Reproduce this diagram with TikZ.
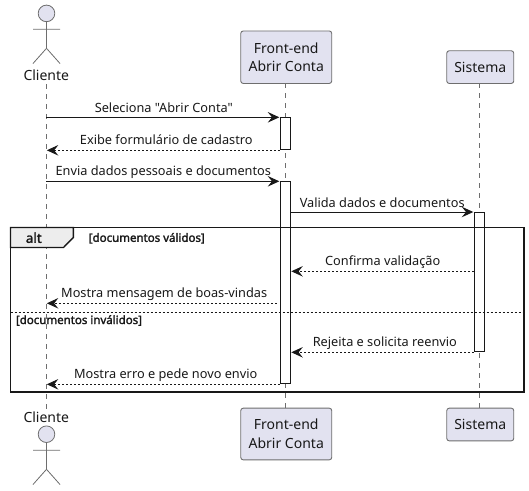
\documentclass[tikz,border=0pt]{standalone}
\usepackage{fontspec}
\setmainfont{Noto Sans}
\newfontfamily\plainfont{Noto Sans}
\newfontfamily\heavyfont[FakeBold=2]{Noto Sans}
\usetikzlibrary{arrows.meta}
\definecolor{ink}{HTML}{181818}
\definecolor{partfill}{HTML}{E2E2F0}
\definecolor{edge}{HTML}{6E6E6E}
\tikzset{
  x=1pt,y=-1pt,
  part/.style={draw=edge,line width=.9pt,fill=partfill,rounded corners=2.5pt,text=ink,font=\plainfont\fontsize{14}{18.7}\selectfont,align=center,inner sep=0pt,anchor=north west},
  life/.style={draw=edge,line width=.8pt,dash pattern=on 5pt off 5pt},
  actorline/.style={draw=edge,line width=.8pt},
  actorhead/.style={circle,draw=edge,line width=.8pt,fill=partfill,minimum size=16.6pt,inner sep=0pt},
  actorname/.style={text=ink,font=\plainfont\fontsize{14}{17}\selectfont,inner sep=0pt,anchor=base},
  activ/.style={draw=ink,line width=1pt,fill=white,minimum width=10pt,inner sep=0pt,anchor=north},
  msg/.style={draw=ink,line width=1pt,-{Stealth[length=11.5pt,width=10.5pt,inset=4.2pt]}},
  ret/.style={msg,dash pattern=on 2pt off 2pt},
  lab/.style={text=ink,font=\plainfont\fontsize{12.75}{16}\selectfont,inner sep=0pt,anchor=base},
  framebox/.style={draw=ink,line width=1.8pt},
  divider/.style={draw=ink,line width=1pt,dash pattern=on 2pt off 2pt},
  tab/.style={draw=ink,line width=1.4pt,fill=black!7},
  taglab/.style={text=ink,font=\heavyfont\fontsize{13.4}{16}\selectfont,inner sep=0pt,anchor=base},
  guard/.style={text=ink,font=\heavyfont\fontsize{11.5}{13}\selectfont,inner sep=0pt,anchor=base},
}
\begin{document}
\begin{tikzpicture}
\useasboundingbox (0,0) rectangle (529,490);
% lifeline anchors
\coordinate (cltop) at (46.3,84);
\coordinate (clbot) at (46.3,410);
\coordinate (frtop) at (285.3,83);
\coordinate (frbot) at (285.3,408);
\coordinate (sitop) at (479.5,83);
\coordinate (sibot) at (479.5,408);
\draw[life] (cltop) -- (clbot);
\draw[life] (frtop) -- (frbot);
\draw[life] (sitop) -- (sibot);
% top participants
\node[part,minimum width=91pt,minimum height=52.5pt] (ftop) at (240.3,30.5) {Front-end\\Abrir Conta};
\node[part,minimum width=67pt,minimum height=32.7pt] (stop) at (446.3,50.3) {Sistema};
\node[actorhead] (chead) at (46.5,13.4) {};
\coordinate (chip) at (46.5,48.3);
\coordinate (carml) at (33,29.2);
\coordinate (carmr) at (60,29.2);
\coordinate (clegl) at (33,63.5);
\coordinate (clegr) at (60,63.5);
\draw[actorline] (chead.south) -- (chip) (carml) -- (carmr) (clegl) -- (chip) -- (clegr);
\node[actorname] (cname) at (46.3,80) {Cliente};
% bottom participants
\node[part,minimum width=91pt,minimum height=51.7pt] (fbot) at (240.3,407.7) {Front-end\\Abrir Conta};
\node[part,minimum width=67pt,minimum height=32.7pt] (sbot) at (446.3,407.7) {Sistema};
\node[actorname] (cnameb) at (46.3,422) {Cliente};
\node[actorhead] (cheadb) at (46.5,434.2) {};
\coordinate (chipb) at (46.5,469.3);
\coordinate (carmlb) at (33,450.3);
\coordinate (carmrb) at (60,450.3);
\coordinate (cleglb) at (33,484.5);
\coordinate (clegrb) at (60,484.5);
\draw[actorline] (cheadb.south) -- (chipb) (carmlb) -- (carmrb) (cleglb) -- (chipb) -- (clegrb);
% activations
\node[activ,minimum height=32pt] (a1) at (285.3,117.3) {};
\node[activ,minimum height=202pt] (a2) at (285.3,181.3) {};
\node[activ,minimum height=139.3pt] (a3) at (479.3,212) {};
% messages
\draw[msg] (cltop|-a1.north) -- ([xshift=-.5pt]a1.north west);
\node[lab] (m1) at (163.8,112.7) {Seleciona "Abrir Conta"};
\draw[ret] (a1.south west) -- ([xshift=.5pt]cltop|-a1.south);
\node[lab] (m2) at (166.3,144) {Exibe formulário de cadastro};
\draw[msg] (cltop|-a2.north) -- ([xshift=-.5pt]a2.north west);
\node[lab] (m3) at (163.3,175.6) {Envia dados pessoais e documentos};
\draw[msg] (a2.east|-a3.north) -- ([xshift=-.5pt]a3.north west);
\node[lab] (m4) at (382.2,207) {Valida dados e documentos};
\coordinate (y5) at (0,271.3);
\draw[ret] (a3.west|-y5) -- ([xshift=.5pt]a2.east|-y5);
\node[lab] (m5) at (382.7,265.4) {Confirma validação};
\coordinate (y6) at (0,303.3);
\draw[ret] ([xshift=-3pt]a2.west|-y6) -- ([xshift=.5pt]cltop|-y6);
\node[lab] (m6) at (164.2,297.7) {Mostra mensagem de boas-vindas};
\draw[ret] (a3.south west) -- ([xshift=.5pt]a2.east|-a3.south);
\node[lab] (m7) at (384.8,346.4) {Rejeita e solicita reenvio};
\draw[ret] (a2.south west) -- ([xshift=.5pt]cltop|-a2.south);
\node[lab] (m8) at (165.7,378.1) {Mostra erro e pede novo envio};
% alt frame
\coordinate (fnw) at (10.5,227.5);
\coordinate (fse) at (523.7,391.7);
\coordinate (dl) at (10.5,312.3);
\coordinate (dr) at (523.7,312.3);
\draw[divider] (dl) -- (dr);
\draw[tab] (fnw) -- (73.3,227.5) -- (73.3,237.5) -- (63.5,247.5) -- (10.5,247.5) -- cycle;
\draw[framebox] (fnw) rectangle (fse);
\node[taglab] (altlab) at (33.8,242.8) {alt};
\node[guard] (g1) at (146.8,241.8) {[documentos válidos]};
\node[guard] (g2) at (79,324) {[documentos inválidos]};
\end{tikzpicture}
\end{document}
